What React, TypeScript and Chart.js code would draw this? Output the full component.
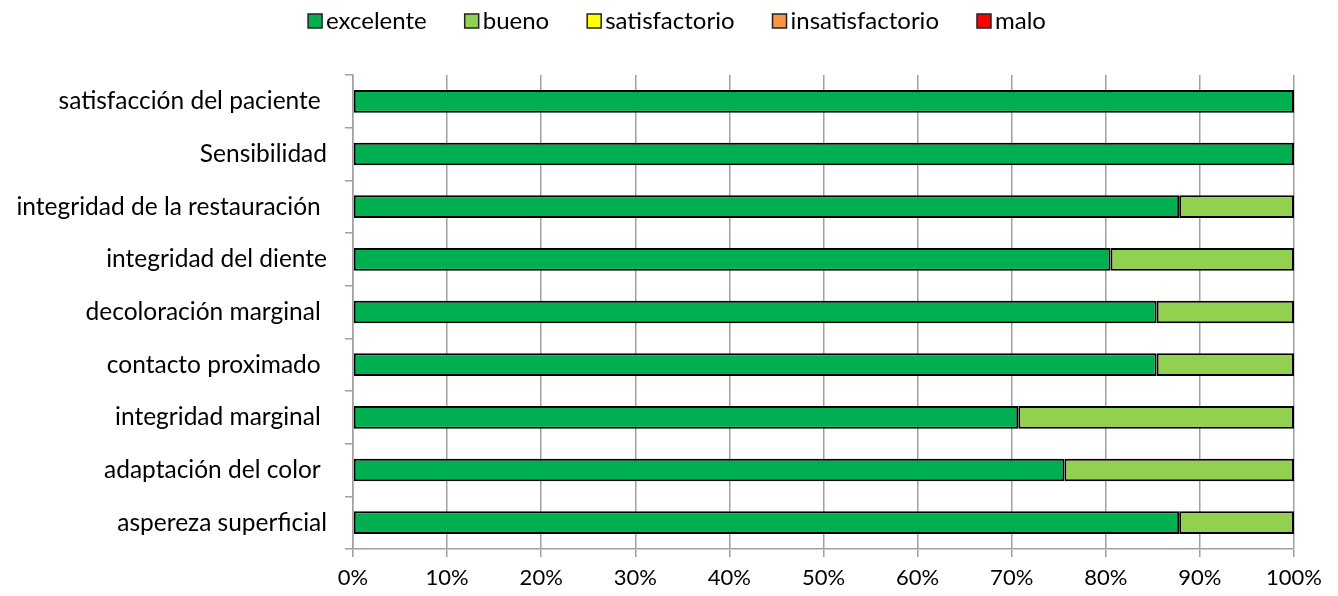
import React, { useEffect, useRef } from "react";
import { Chart, registerables } from "chart.js";

Chart.register(...registerables);

const categories = [
  "satisfacción del paciente ",
  "Sensibilidad",
  "integridad de la restauración ",
  "integridad del diente",
  "decoloración marginal ",
  "contacto proximado ",
  "integridad marginal ",
  "adaptación del color ",
  "aspereza superficial",
];

const excelente = [100, 100, 87.8, 80.5, 85.4, 85.4, 70.7, 75.6, 87.8];
const bueno = [0, 0, 12.2, 19.5, 14.6, 14.6, 29.3, 24.4, 12.2];
const satisfactorio = [0, 0, 0, 0, 0, 0, 0, 0, 0];
const insatisfactorio = [0, 0, 0, 0, 0, 0, 0, 0, 0];
const malo = [0, 0, 0, 0, 0, 0, 0, 0, 0];

const seriesNames = ["excelente", "bueno", "satisfactorio", "insatisfactorio", "malo"];
const seriesColors = ["#00B050", "#92D050", "#FFFF00", "#F79646", "#FF0000"];

const FONT = "Lato, 'Liberation Sans', sans-serif";

const customLegend = {
  id: "customLegend",
  afterDraw(chart: any) {
    const ctx = chart.ctx;
    const ds = chart.data.datasets;
    const fontSize = 24;
    const box = 14;
    const gap = 4;
    const spacing = 38;
    ctx.save();
    ctx.font = `${fontSize}px ${FONT}`;
    const widths = ds.map((d: any) => ctx.measureText(d.label).width);
    const total =
      widths.reduce((a: number, w: number) => a + box + gap + w, 0) + spacing * (ds.length - 1);
    let x = 677 - total / 2;
    const cy = 21;
    ctx.textBaseline = "middle";
    ctx.textAlign = "left";
    ds.forEach((d: any, i: number) => {
      ctx.fillStyle = d.backgroundColor;
      ctx.fillRect(x, cy - box / 2, box, box);
      ctx.strokeStyle = "#222";
      ctx.lineWidth = 1.5;
      ctx.strokeRect(x, cy - box / 2, box, box);
      ctx.fillStyle = "#000";
      ctx.fillText(d.label, x + box + gap, cy);
      x += box + gap + widths[i] + spacing;
    });
    ctx.restore();
  },
};

export default function App() {
  const ref = useRef<HTMLCanvasElement>(null);
  useEffect(() => {
    const ctx = ref.current!;
    const values = [excelente, bueno, satisfactorio, insatisfactorio, malo];
    const chart = new Chart(ctx, {
      type: "bar",
      data: {
        labels: categories,
        datasets: values.map((d, i) => ({
          label: seriesNames[i],
          data: d,
          backgroundColor: seriesColors[i],
          borderColor: "#000",
          borderWidth: 2,
          borderSkipped: false,
          categoryPercentage: 0.43,
          barPercentage: 1,
        })),
      },
      options: {
        indexAxis: "y",
        animation: false,
        responsive: false,
        maintainAspectRatio: false,
        layout: { padding: { left: 0, right: 44, top: 75, bottom: 0 } },
        plugins: {
          tooltip: { enabled: false },
          legend: { display: false },
        },
        scales: {
          x: {
            stacked: true,
            min: 0,
            max: 100,
            ticks: {
              stepSize: 10,
              color: "#000",
              font: { family: FONT, size: 22 },
              padding: 8,
              callback: (v: any) => v + "%",
            },
            grid: {
              color: "#a0a0a0",
              lineWidth: 1.5,
              tickLength: 8,
              drawOnChartArea: true,
            },
            border: { color: "#a0a0a0", width: 1.5 },
            afterFit: (s: any) => {
              s.height = 47;
            },
          },
          y: {
            stacked: true,
            ticks: {
              color: "#000",
              font: { family: FONT, size: 24.5 },
              padding: 18,
            },
            grid: {
              color: "#a0a0a0",
              lineWidth: 1.5,
              tickLength: 8,
              drawOnChartArea: false,
              offset: true,
            },
            border: { color: "#a0a0a0", width: 1.5 },
            afterFit: (s: any) => {
              s.width = 353;
            },
          },
        },
      },
      plugins: [customLegend],
    });
    return () => chart.destroy();
  }, []);
  return (
    <div style={{ position: "fixed", left: 0, top: 0, width: 1338, height: 596, background: "#fff" }}>
      <canvas ref={ref} width={1338} height={596} style={{ width: 1338, height: 596 }} />
    </div>
  );
}
